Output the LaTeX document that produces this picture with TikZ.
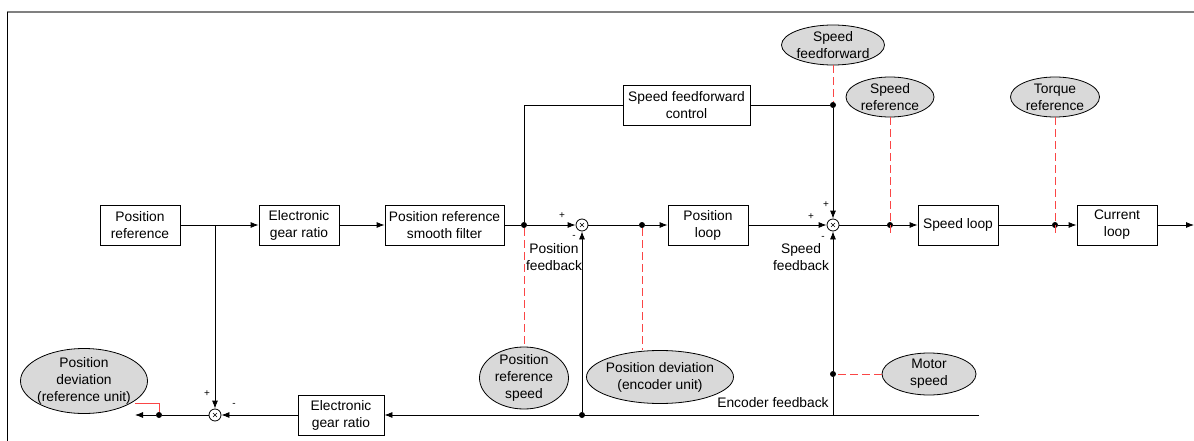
\documentclass[tikz,border=0pt]{standalone}
\usepackage{fontspec}
\setmainfont{Liberation Sans}
\usetikzlibrary{arrows.meta,shapes.geometric}
\definecolor{refred}{RGB}{250,70,70}
\tikzset{
	blk/.style={draw, line width=.8pt, minimum height=40pt, align=center, inner sep=1pt},
	note/.style={ellipse, draw, fill=gray!30, line width=.8pt, inner sep=0pt},
	notetxt/.style={align=center, inner sep=0pt},
	sumpt/.style={circle, draw, fill=white, line width=.8pt, minimum size=12pt, inner sep=0pt,
		path picture={\draw[line width=.6pt] ([shift={(-2pt,-2pt)}]path picture bounding box.center) -- ++(4pt,4pt)
			([shift={(-2pt,2pt)}]path picture bounding box.center) -- ++(4pt,-4pt);}},
	dot/.style={circle, fill, inner sep=0pt, minimum size=6pt},
	sign/.style={font=\fontsize{10}{10}\selectfont, inner sep=0pt},
	refline/.style={refred, line width=1pt, dash pattern=on 8pt off 4pt}
}
\begin{document}
\begin{tikzpicture}[x=1pt, y=-1pt, font=\fontsize{13.8}{17}\selectfont, line width=.8pt, >={Latex[length=8pt,width=6pt]}]
	\useasboundingbox (0,0) rectangle (1194,441);
	\draw[gray, line width=1.2pt] (7,12) -- (1194,12);
	\draw (7,12) -- (7,441);
	% blocks
	\node[blk, minimum width=80pt] (posref) at (140,225) {Position\\reference};
	\node[blk, minimum width=80pt] (egra) at (299,225) {Electronic\\gear ratio};
	\node[blk, minimum width=119pt] (filt) at (444.5,225) {Position reference\\smooth filter};
	\node[blk, minimum width=80pt] (ploop) at (708,225) {Position\\loop};
	\node[blk, minimum width=80pt] (sloop) at (958,225) {Speed loop};
	\node[blk, minimum width=80pt] (cloop) at (1117,225) {Current\\loop};
	\node[blk, minimum width=127pt] (sffc) at (686.5,105) {Speed feedforward\\control};
	\node[blk, minimum width=86pt] (egrb) at (341,415) {Electronic\\gear ratio};
	% summing points and junctions
	\node[sumpt] (s1) at (582,225) {};
	\node[sumpt] (s2) at (833,225) {};
	\node[sumpt] (s3) at (215,415) {};
	\node[dot] (j1) at (524,225) {};
	\node[dot] (j2) at (642,225) {};
	\node[dot] (j3) at (890,225) {};
	\node[dot] (j4) at (1055,225) {};
	\node[dot] (j5) at (833,105) {};
	\node[dot] (j7) at (833,374) {};
	\node[dot] (j8) at (582,415) {};
	\node[dot] (j9) at (159,415) {};
	\coordinate (b1) at (215,225);
	\coordinate (c6) at (833,415);
	\coordinate (encR) at (979,415);
	\coordinate (out) at (1194,225);
	\coordinate (outb) at (135,415);
	\coordinate (e3) at (890,237);
	\coordinate (e4) at (1055,237);
	\coordinate (rc) at (135,403);
	% signal flow
	\draw[->] (posref) -- (egra);
	\draw[->] (egra) -- (filt);
	\draw (filt) -- (j1);
	\draw[->] (j1) -- (s1);
	\draw (j1) |- (sffc);
	\draw (sffc) -- (j5);
	\draw[->] (j5) -- (s2);
	\draw (s1) -- (j2);
	\draw[->] (j2) -- (ploop);
	\draw[->] (ploop) -- (s2);
	\draw (s2) -- (j3);
	\draw[->] (j3) -- (sloop);
	\draw (sloop) -- (j4);
	\draw[->] (j4) -- (cloop);
	\draw[->] (cloop) -- (out);
	\draw[->] (encR) -- (egrb);
	\draw (c6) -- (j7);
	\draw[->] (j7) -- (s2);
	\draw[->] (j8) -- (s1);
	\draw[->] (b1) -- (s3);
	\draw[->] (egrb) -- (s3);
	\draw (s3) -- (j9);
	\draw[->] (j9) -- (outb);
	% signs
	\node[sign] (p1) at (562,216) {+};
	\node[sign] (m1) at (574,237) {-};
	\node[sign] (p2) at (811,217) {+};
	\node[sign] (p3) at (826,205) {+};
	\node[sign] (m2) at (823,238) {-};
	\node[sign] (p4) at (207,394) {+};
	\node[sign] (m3) at (234,405) {-};
	% texts
	\node[align=center, inner sep=0pt] (pfb) at (554,257) {Position\\feedback};
	\node[align=center, inner sep=0pt] (sfb) at (801,257) {Speed\\feedback};
	\node[anchor=east, inner sep=0pt] (efb) at (829,403) {Encoder feedback};
	% monitored values
	\node[note, minimum width=103pt, minimum height=40pt, label={[notetxt]center:Speed\\feedforward}] (nsff) at (833,45) {};
	\node[note, minimum width=88pt, minimum height=40pt, label={[notetxt]center:Speed\\reference}] (nsref) at (890,97) {};
	\node[note, minimum width=89pt, minimum height=40pt, label={[notetxt]center:Torque\\reference}] (ntref) at (1055,97) {};
	\node[note, minimum width=94pt, minimum height=42pt, label={[notetxt]center:Motor\\speed}] (nmot) at (929,374) {};
	\node[note, minimum width=89pt, minimum height=62pt, label={[notetxt]center:Position\\reference\\speed}] (nprs) at (524,378) {};
	\node[note, minimum width=147pt, minimum height=53pt, label={[notetxt]center:Position deviation\\(encoder unit)}] (npde) at (660,377) {};
	\node[note, minimum width=127pt, minimum height=65pt, label={[notetxt]center:Position\\deviation\\(reference unit)}] (npdr) at (84,381) {};
	\draw[refline] (nsff) -- (j5);
	\draw[refline] (nsref) -- (e3);
	\draw[refline] (ntref) -- (e4);
	\draw[refline] (nmot) -- (j7);
	\draw[refline] (j1) -- (nprs);
	\draw[refline] (j2) -- (j2 |- npde.north);
	\draw[refred, line width=1pt] (j9) |- (rc);
\end{tikzpicture}
\end{document}
